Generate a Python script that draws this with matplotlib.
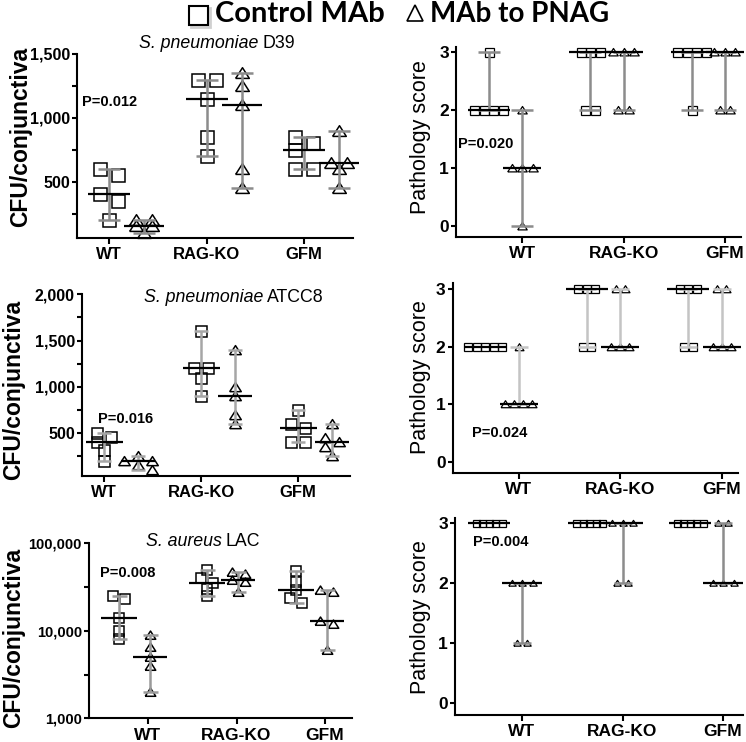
import numpy as np
import matplotlib
matplotlib.use('Agg')
import matplotlib.pyplot as plt
from matplotlib.ticker import FixedLocator, FuncFormatter, NullFormatter

plt.rcParams['font.family'] = ['Liberation Sans', 'DejaVu Sans']

# ---------------- data ----------------
groups = ['WT', 'RAG-KO', 'GFM']
legend_labels = ['Control MAb', 'MAb to PNAG']

d39_cfu_ctrl = [[600, 550, 400, 350, 200], [1300, 1300, 1150, 850, 700], [850, 800, 750, 600, 600]]
d39_cfu_pnag = [[200, 200, 150, 150, 100], [1350, 1250, 1100, 600, 450], [900, 650, 650, 600, 450]]
d39_path_ctrl = [[3, 2, 2, 2, 2], [3, 3, 3, 2, 2], [3, 3, 3, 3, 2]]
d39_path_pnag = [[2, 1, 1, 1, 0], [3, 3, 3, 2, 2], [3, 3, 3, 2, 2]]

atcc8_cfu_ctrl = [[500, 460, 400, 320, 200], [1600, 1200, 1200, 1100, 900], [750, 600, 550, 400, 400]]
atcc8_cfu_pnag = [[250, 200, 200, 150, 100], [1400, 1000, 900, 700, 600], [600, 450, 400, 350, 250]]
atcc8_path_ctrl = [[2, 2, 2, 2, 2], [3, 3, 3, 2, 2], [3, 3, 3, 2, 2]]
atcc8_path_pnag = [[2, 1, 1, 1, 1], [3, 3, 2, 2, 2], [3, 3, 2, 2, 2]]

lac_cfu_ctrl = [[25000, 23000, 14000, 10000, 8000], [50000, 40000, 35000, 30000, 25000],
                [48000, 36000, 29000, 24000, 21000]]
lac_cfu_pnag = [[9000, 6500, 5000, 4000, 2000], [47000, 45000, 38000, 36000, 28000],
                [29000, 28000, 13000, 12000, 6000]]
lac_path_ctrl = [[3, 3, 3, 3, 3], [3, 3, 3, 3, 3], [3, 3, 3, 3, 3]]
lac_path_pnag = [[2, 2, 2, 1, 1], [3, 3, 3, 2, 2], [3, 3, 2, 2, 2]]

titles = [('S. pneumoniae', 'D39'), ('S. pneumoniae', 'ATCC8'), ('S. aureus', 'LAC')]
p_values = ['P=0.012', 'P=0.020', 'P=0.016', 'P=0.024', 'P=0.008', 'P=0.004']
cfu_label = 'CFU/conjunctiva'
path_label = 'Pathology score'

# ---------------- layout ----------------
W, H = 746, 742
fig = plt.figure(figsize=(W / 100, H / 100), dpi=100)


def add_ax(x0, x1, ytop, ybot):
    return fig.add_axes([x0 / W, 1 - ybot / H, (x1 - x0) / W, (ybot - ytop) / H])


def ftext(x, y, s, **kw):
    fig.text(x / W, 1 - y / H, s, **kw)


TRI = [(-1, -0.72), (1, -0.72), (0, 0.85), (-1, -0.72)]


def swarm(ax, xc, vals, thr_px, step_px):
    vals = np.asarray(vals, float)
    n = len(vals)
    y0 = ax.get_ylim()[0]
    ys = ax.transData.transform(np.column_stack([np.full(n, xc), vals]))[:, 1]
    order = np.argsort(-vals, kind='stable')
    offs = np.zeros(n)
    placed = []
    cands = [0.0]
    for k in range(1, 15):
        cands += [k * step_px, -k * step_px]
    for i in order:
        for c in cands:
            ok = True
            for j in placed:
                if abs(ys[i] - ys[j]) < thr_px and abs(c - offs[j]) < step_px * 0.99:
                    ok = False
                    break
            if ok:
                offs[i] = c
                break
        placed.append(i)
    parent = list(range(n))

    def find(a):
        while parent[a] != a:
            a = parent[a]
        return a
    for i in range(n):
        for j in range(i + 1, n):
            if abs(ys[i] - ys[j]) < thr_px:
                parent[find(i)] = find(j)
    roots = [find(i) for i in range(n)]
    for r in set(roots):
        idx = [i for i in range(n) if roots[i] == r]
        sh = (offs[idx].min() + offs[idx].max()) / 2
        offs[idx] -= sh
    p0 = ax.transData.transform([(0, y0)])[0][0]
    p1 = ax.transData.transform([(1, y0)])[0][0]
    return xc + offs / (p1 - p0)


def draw_group(ax, xc, vals, marker, ms_px, h_px, step_px, gray, mew, med_px, cap_px):
    xs = swarm(ax, xc, vals, 0.55 * h_px, step_px)
    ax.plot(xs, vals, ls='none', marker=marker, ms=ms_px * 0.72, mfc='none', mec='black',
            mew=mew, zorder=2, clip_on=False)
    v = np.asarray(vals, float)
    med, lo, hi = np.median(v), v.min(), v.max()
    if hi > lo:
        ax.errorbar([xc], [med], yerr=[[med - lo], [hi - med]], fmt='none', ecolor=gray,
                    elinewidth=1.8, capsize=cap_px * 0.36, capthick=1.8, zorder=3, clip_on=False)
    ax.plot([xc], [med], ls='none', marker='_', ms=med_px * 0.72, mew=1.6, color='black',
            zorder=4, clip_on=False)


panels = [
    dict(box=(77, 353, 54, 238), ylim=(59, 1500), xlim=(-0.33, 2.50), log=False,
         ctrl=d39_cfu_ctrl, pnag=d39_cfu_pnag, offs=(0.0, 0.36), ms=13, sstep=18, tstep=16,
         gray='#8c8c8c', med=43, cap=22, major=[500, 1000, 1500], minor=[250, 750, 1250],
         yfs=11.5, xfs=12, cfu=True),
    dict(box=(456, 741, 47, 237), ylim=(-0.19, 3.086), xlim=(-0.653, 2.158), log=False,
         ctrl=d39_path_ctrl, pnag=d39_path_pnag, offs=(-0.33, 0.0), ms=9, sstep=9.5, tstep=10.5,
         gray='#8c8c8c', med=42, cap=22, major=[0, 1, 2, 3], minor=[], yfs=12.5, xfs=12.5, cfu=False),
    dict(box=(82, 350, 294.3, 476), ylim=(35, 2000), xlim=(-0.227, 2.536), log=False,
         ctrl=atcc8_cfu_ctrl, pnag=atcc8_cfu_pnag, offs=(0.0, 0.35), ms=11, sstep=14, tstep=14,
         gray='#a6a6a6', med=37, cap=14, major=[500, 1000, 1500, 2000], minor=[250, 750, 1250, 1750],
         yfs=11.5, xfs=12, cfu=True),
    dict(box=(452.7, 738, 283.3, 472.7), ylim=(-0.19, 3.104), xlim=(-0.653, 2.158), log=False,
         ctrl=atcc8_path_ctrl, pnag=atcc8_path_pnag, offs=(-0.33, 0.0), ms=8.5, sstep=8.5, tstep=9,
         gray='#c4c4c4', med=42, cap=18, major=[0, 1, 2, 3], minor=[], yfs=12.5, xfs=12.5, cfu=False),
    dict(box=(89, 352, 543.3, 718.3), ylim=(1000, 100000), xlim=(-0.667, 2.305), log=True,
         ctrl=lac_cfu_ctrl, pnag=lac_cfu_pnag, offs=(-0.33, 0.02), ms=10, sstep=12, tstep=13,
         gray='#9a9a9a', med=36, cap=15, major=[1000, 10000, 100000],
         minor=[10 ** 3.5, 10 ** 4.5], yfs=10.5, xfs=12.5, cfu=True),
    dict(box=(455, 743, 518, 715), ylim=(-0.206, 3.09), xlim=(-0.667, 2.199), log=False,
         ctrl=lac_path_ctrl, pnag=lac_path_pnag, offs=(-0.33, 0.0), ms=7, sstep=6.5, tstep=10.5,
         gray='#8c8c8c', med=43, cap=18, major=[0, 1, 2, 3], minor=[], yfs=12.5, xfs=12.5, cfu=False),
]

for p in panels:
    ax = add_ax(*p['box'])
    if p['log']:
        ax.set_yscale('log')
    ax.set_xlim(*p['xlim'])
    ax.set_ylim(*p['ylim'])
    for s in ['top', 'right']:
        ax.spines[s].set_visible(False)
    for s in ['left', 'bottom']:
        ax.spines[s].set_linewidth(1.5)
    ax.yaxis.set_major_locator(FixedLocator(p['major']))
    ax.yaxis.set_minor_locator(FixedLocator(p['minor']))
    ax.yaxis.set_major_formatter(FuncFormatter(lambda v, pos: f'{v:,.0f}'))
    ax.yaxis.set_minor_formatter(NullFormatter())
    ax.set_xticks(range(len(groups)))
    ax.set_xticklabels(groups)
    ax.tick_params(axis='y', which='both', direction='out', length=3.6, width=1.5, pad=1.5,
                   labelsize=p['yfs'])
    ax.tick_params(axis='x', direction='out', length=4.3, width=1.5, pad=2.5, labelsize=p['xfs'])
    for lab in ax.get_xticklabels() + ax.get_yticklabels():
        lab.set_fontweight('bold')
    mew = 1.1 if p['cfu'] else 0.9
    tms = p['ms'] * 1.05
    for gi in range(len(groups)):
        draw_group(ax, gi + p['offs'][0], p['ctrl'][gi], 's', p['ms'], p['ms'], p['sstep'],
                   p['gray'], mew, p['med'], p['cap'])
        draw_group(ax, gi + p['offs'][1], p['pnag'][gi], TRI, tms, tms * 0.78, p['tstep'],
                   p['gray'], mew, p['med'] * 0.92, p['cap'])

# y labels
for (x, y) in [(21, 137), (14, 390), (14, 638)]:
    ftext(x, y, cfu_label, rotation=90, ha='center', va='center', fontsize=16.5, fontweight='bold')
for (x, y) in [(420, 137), (420, 377), (420, 617)]:
    ftext(x, y, path_label, rotation=90, ha='center', va='center', fontsize=15.5)

# titles (italic species + strain)
for (xs, y), (sp, st) in zip([(258, 43), (263, 298), (222, 542)], titles):
    ftext(xs, y, sp, ha='right', va='center', fontsize=12.8, style='italic')
    ftext(xs + 4, y, st, ha='left', va='center', fontsize=12.8)

# p-values
for (x, y), s in zip([(82, 102), (458, 144), (98, 419), (472, 433), (100, 573), (473, 542)], p_values):
    ftext(x, y, s, ha='left', va='center', fontsize=10.5, fontweight='bold')

# legend
lax = fig.add_axes([0, 0, 1, 1])
lax.set_xlim(0, W)
lax.set_ylim(H, 0)
lax.axis('off')
lax.plot([200], [17], marker='s', ms=19 * 0.72, mfc='none', mec='#d0d0d0', mew=2)
lax.plot([198], [15], marker='s', ms=19 * 0.72, mfc='white', mec='black', mew=1.5)
lax.plot([415], [13], marker='^', ms=16 * 0.72, mfc='none', mec='black', mew=1.2)
lax.text(215, 14, legend_labels[0], ha='left', va='center', fontsize=21, fontweight='bold',
         family=['Lato', 'DejaVu Sans'])
lax.text(430, 14, legend_labels[1], ha='left', va='center', fontsize=20, fontweight='bold',
         family=['Lato', 'DejaVu Sans'])

fig.savefig('out.png', dpi=100)
